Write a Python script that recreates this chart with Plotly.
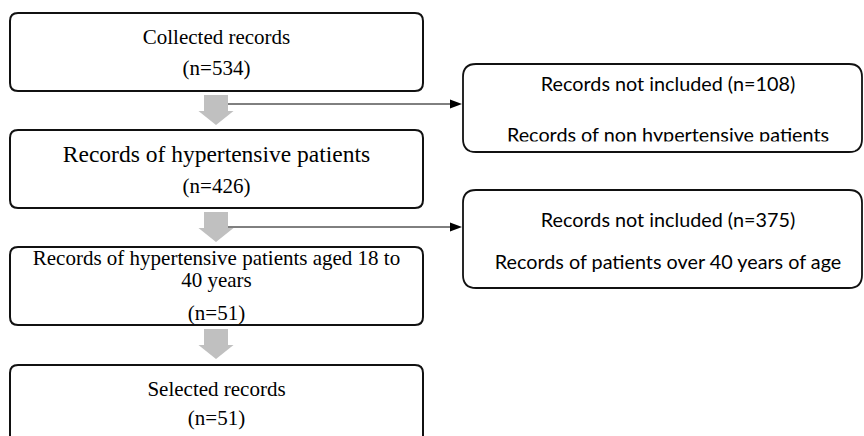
import plotly.graph_objects as go

# ---- data ----
main_labels = ["Collected records",
               "Records of hypertensive patients",
               "Records of hypertensive patients aged 18 to\n40 years",
               "Selected records"]
main_counts = [534, 426, 51, 51]
excluded_counts = [108, 375]
excluded_reasons = ["Records of non hypertensive patients",
                    "Records of patients over 40 years of age"]

# ---- layout geometry (pixels) ----
W, H = 864, 436
main_x = (10, 423)
main_y = [(13, 91), (130, 208), (247, 325), (365, 470)]
label_y = [[38.5], [156.5], [260, 281.5], [390.5]]
label_size = [21, 23.5, 21, 21]
count_y = [70, 188, 315, 420]
side_x = (463, 862)
side_y = [(64, 152), (190, 288)]
side_text_y = [(86, 137), (222, 264)]
side_cx = 668
conn_y = [104, 227]
arrow_top = [95, 212, 329]
arrow_neck = [111, 228, 345]
arrow_tip = [125, 242, 359]
ax_c, shaft_hw, head_hw = 216, 12, 17.5

GRAY = "#c0c0c0"
SERIF = "Liberation Serif, Times New Roman, serif"
SANS = "Lato, Open Sans, sans-serif"


def rrect(x0, y0, x1, y1, r):
    return (f"M {x0+r},{y0} L {x1-r},{y0} Q {x1},{y0} {x1},{y0+r} "
            f"L {x1},{y1-r} Q {x1},{y1} {x1-r},{y1} L {x0+r},{y1} "
            f"Q {x0},{y1} {x0},{y1-r} L {x0},{y0+r} Q {x0},{y0} {x0+r},{y0} Z")


shapes = []
# main boxes
for (y0, y1) in main_y:
    shapes.append(dict(type="path", path=rrect(main_x[0], y0, main_x[1], y1, 8),
                       line=dict(color="#111111", width=2), fillcolor="white",
                       layer="below"))
# side boxes
for (y0, y1) in side_y:
    shapes.append(dict(type="path", path=rrect(side_x[0], y0, side_x[1], y1, 13),
                       line=dict(color="#111111", width=1.8), fillcolor="white",
                       layer="below"))
# block arrows
for t, n, tip in zip(arrow_top, arrow_neck, arrow_tip):
    p = (f"M {ax_c-shaft_hw},{t} L {ax_c+shaft_hw},{t} L {ax_c+shaft_hw},{n} "
         f"L {ax_c+head_hw},{n} L {ax_c},{tip} L {ax_c-head_hw},{n} "
         f"L {ax_c-shaft_hw},{n} Z")
    shapes.append(dict(type="path", path=p, fillcolor=GRAY, line=dict(width=0),
                       layer="below"))
# connector lines with arrowheads
for cy in conn_y:
    shapes.append(dict(type="line", x0=ax_c + shaft_hw, x1=452, y0=cy, y1=cy,
                       line=dict(color="black", width=1), layer="below"))
    shapes.append(dict(type="path",
                       path=f"M 450,{cy-4.5} L 462,{cy} L 450,{cy+4.5} Z",
                       fillcolor="black", line=dict(width=0), layer="below"))
# white band clipping the descenders of the first side box's last line
shapes.append(dict(type="rect", x0=470, x1=855, y0=141.5, y1=150.5,
                   fillcolor="white", line=dict(width=0), layer="above"))

fig = go.Figure()

# main box texts
tx, ty, tt, ts = [], [], [], []
for lab, ys, sz, cnt, cy in zip(main_labels, label_y, label_size, main_counts, count_y):
    for line, yy in zip(lab.split("\n"), ys):
        tx.append(sum(main_x) / 2); ty.append(yy); tt.append(line); ts.append(sz)
    tx.append(sum(main_x) / 2); ty.append(cy); tt.append(f"(n={cnt})"); ts.append(21)
fig.add_trace(go.Scatter(x=tx, y=ty, text=tt, mode="text",
                         textposition="middle center",
                         textfont=dict(family=SERIF, size=ts, color="black"),
                         hoverinfo="skip", showlegend=False, cliponaxis=False))

# side box texts
sx, sy, st = [], [], []
for cnt, reason, (y1, y2) in zip(excluded_counts, excluded_reasons, side_text_y):
    sx += [side_cx, side_cx]
    sy += [y1, y2]
    st += [f"Records not included (n={cnt})", reason]
fig.add_trace(go.Scatter(x=sx, y=sy, text=st, mode="text",
                         textposition="middle center",
                         textfont=dict(family=SANS, size=19.8, color="black"),
                         hoverinfo="skip", showlegend=False))

fig.update_layout(
    width=W, height=H, margin=dict(l=0, r=0, t=0, b=0),
    paper_bgcolor="white", plot_bgcolor="white",
    xaxis=dict(range=[0, W], visible=False, fixedrange=True),
    yaxis=dict(range=[H, 0], visible=False, fixedrange=True),
    shapes=shapes,
)
fig.write_html("out.html", config={"displayModeBar": False},
               post_script="document.body.style.margin='0';document.body.style.overflow='hidden';")
